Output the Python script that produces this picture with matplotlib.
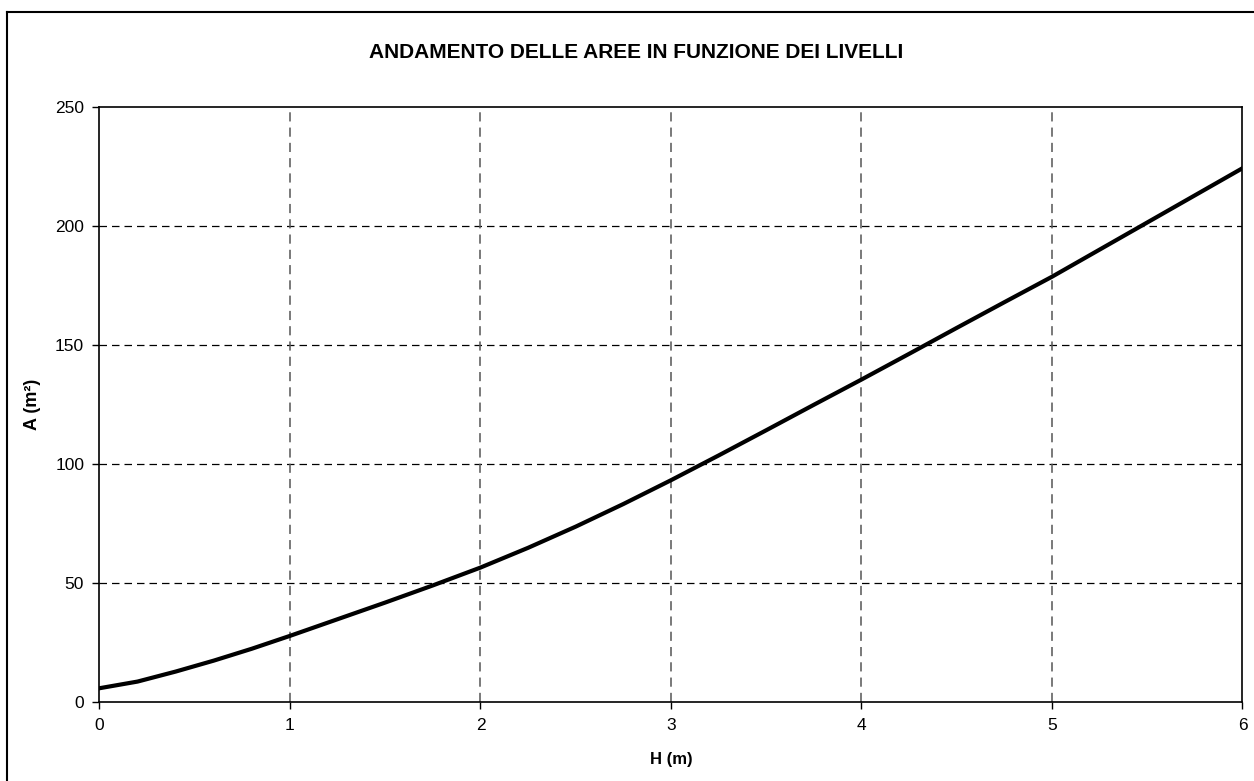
import matplotlib
matplotlib.use("Agg")
import matplotlib.pyplot as plt
from matplotlib.lines import Line2D

plt.rcParams['font.family'] = ['Liberation Sans', 'DejaVu Sans']

H = [0.0, 0.2, 0.4, 0.6, 0.8, 1.0, 1.25, 1.5, 1.75, 2.0, 2.25, 2.5, 2.75, 3.0,
     3.25, 3.5, 3.75, 4.0, 4.25, 4.5, 4.75, 5.0, 5.25, 5.5, 5.75, 6.0]
A = [5.9, 8.7, 12.9, 17.5, 22.5, 27.9, 34.9, 41.9, 49.1, 56.6, 64.9, 73.8, 83.3, 93.3,
     103.7, 114.3, 125.0, 135.6, 146.4, 157.3, 168.1, 178.8, 190.2, 201.6, 213.0, 224.4]

x_ticks = [0, 1, 2, 3, 4, 5, 6]
y_ticks = [0, 50, 100, 150, 200, 250]

fig = plt.figure(figsize=(12.54, 7.81), dpi=100)
ax = fig.add_axes([0.0793, 0.1008, 0.9115, 0.7618])

ax.plot(H, A, color='black', lw=3.0, solid_joinstyle='round', zorder=3)

ax.set_xlim(0, 6)
ax.set_ylim(0, 250)
ax.set_xticks(x_ticks)
ax.set_yticks(y_ticks)
ax.tick_params(direction='out', length=5, width=1, labelsize=12.5, pad=6)
for s in ax.spines.values():
    s.set_linewidth(1.2)
    s.set_color('black')

for yv in y_ticks[1:-1]:
    ax.axhline(yv, color='black', lw=0.9, dashes=(6, 4), zorder=1)
for xv in x_ticks[1:-1]:
    ax.axvline(xv, color='#555555', lw=1.1, dashes=(6, 4), zorder=1)

ax.set_xlabel('H (m)', fontsize=12, fontweight='bold', labelpad=14)
ax.set_ylabel('A (m²)', fontsize=13, fontweight='bold', labelpad=10)

fig.text(0.5 + 0.007, 0.933, 'ANDAMENTO DELLE AREE IN FUNZIONE DEI LIVELLI',
         ha='center', va='center', fontsize=15, fontweight='bold')

# outer chart-area border (left and top visible)
fig.add_artist(Line2D([7/1254, 7/1254], [0, 1 - 12/781], transform=fig.transFigure,
                      color='black', lw=1.5))
fig.add_artist(Line2D([7/1254, 1], [1 - 12/781, 1 - 12/781], transform=fig.transFigure,
                      color='black', lw=1.5))

fig.savefig('out.png', dpi=100)
